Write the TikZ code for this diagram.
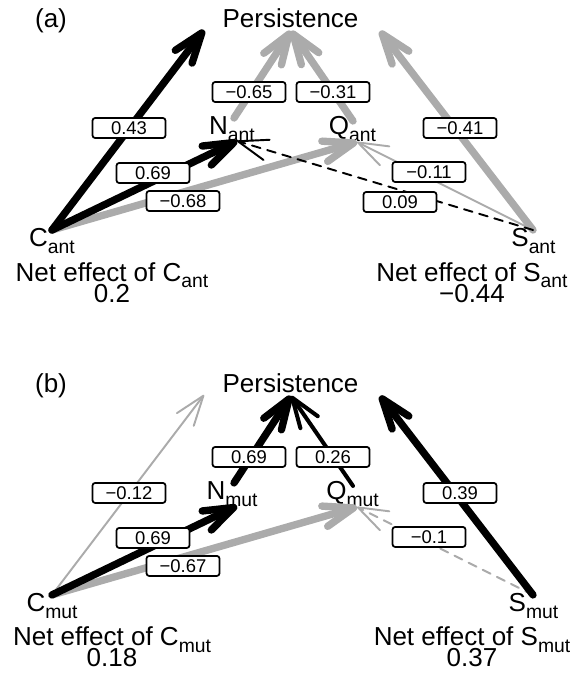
\documentclass[tikz,border=0pt]{standalone}
\usepackage{fontspec}
\setmainfont{Liberation Sans}
\usetikzlibrary{arrows.meta}

\definecolor{neggray}{gray}{0.67}
% lowered, smaller subscript text
\newcommand{\vsub}[1]{\raisebox{-3.5pt}{\fontsize{11}{11}\selectfont #1}}

\begin{document}
\begin{tikzpicture}[
    x=0.02cm, y=-0.02cm,
    var/.style={anchor=base, inner sep=0pt, font=\fontsize{14.8}{16}\selectfont},
    coef/.style={
        draw, fill=white, rounded corners=1.5pt, line width=1pt,
        minimum width=1.46cm, minimum height=0.4cm, inner sep=0pt,
        font=\fontsize{10.5}{11}\selectfont
    },
    effect/.style={line cap=round, -{Straight Barb[length=17pt, width=12pt, round]}},
    strong/.style={effect, line width=4.2pt},
    medium/.style={effect, line width=2.3pt},
    weak/.style={effect, line width=1.1pt},
    poseff/.style={draw=black},
    negeff/.style={draw=neggray},
    broken/.style={dash pattern=on 5pt off 4pt}
]
    \useasboundingbox (0,0) rectangle (572,675);

    % (a) antagonistic network
    \node[var] (tagA) at (51,28) {(a)};
    \node[var] (Pant) at (290.5,28) {Persistence};
    \node[var] (Cant) at (52,247) {C\vsub{ant}};
    \node[var] (Nant) at (232,135) {N\vsub{ant}};
    \node[var] (Qant) at (352.5,135) {Q\vsub{ant}};
    \node[var] (Sant) at (533.5,247) {S\vsub{ant}};

    \coordinate (c-ant) at (52,230);
    \coordinate (s-ant) at (533,230);
    \coordinate (n-ant-in) at (237,141);
    \coordinate (n-ant-out) at (234,118);
    \coordinate (q-ant-in) at (357,142);
    \coordinate (q-ant-out) at (353,121);
    \coordinate (p-ant) at (291,31);
    \coordinate (pc-ant) at (204,30);
    \coordinate (ps-ant) at (380,31);

    \draw[strong, negeff] (c-ant) -- (q-ant-in);
    \draw[strong, negeff] (n-ant-out) -- (p-ant);
    \draw[strong, negeff] (q-ant-out) -- (p-ant);
    \draw[strong, negeff] (s-ant) -- (ps-ant);
    \draw[weak, negeff] (s-ant) -- (q-ant-in);
    \draw[strong, poseff] (c-ant) -- (pc-ant);
    \draw[strong, poseff] (c-ant) -- (n-ant-in);
    \draw[weak, poseff, broken] (s-ant) -- (n-ant-in);

    \node[coef] (cpA) at (129,128) {0.43};
    \node[coef] (cnA) at (153,173) {0.69};
    \node[coef] (cqA) at (183,201) {−0.68};
    \node[coef] (npA) at (249,92) {−0.65};
    \node[coef] (qpA) at (333,92) {−0.31};
    \node[coef] (spA) at (460,128) {−0.41};
    \node[coef] (sqA) at (429,172) {−0.11};
    \node[coef] (snA) at (400,202) {0.09};

    \node[var] (netCant) at (112,281) {Net effect of C\vsub{ant}};
    \node[var] (valCant) at (112,302) {0.2};
    \node[var] (netSant) at (472,281) {Net effect of S\vsub{ant}};
    \node[var] (valSant) at (472,302) {−0.44};

    % (b) mutualistic network, same layout further down
    \begin{scope}[yshift=-7.3cm]
    \node[var] (tagB) at (51,28) {(b)};
    \node[var] (Pmut) at (290.5,28) {Persistence};
    \node[var] (Cmut) at (52,247) {C\vsub{mut}};
    \node[var] (Nmut) at (232,135) {N\vsub{mut}};
    \node[var] (Qmut) at (352.5,135) {Q\vsub{mut}};
    \node[var] (Smut) at (533.5,247) {S\vsub{mut}};

    \coordinate (c-mut) at (52,230);
    \coordinate (s-mut) at (533,230);
    \coordinate (n-mut-in) at (237,141);
    \coordinate (n-mut-out) at (234,118);
    \coordinate (q-mut-in) at (357,142);
    \coordinate (q-mut-out) at (353,121);
    \coordinate (p-mut) at (291,31);
    \coordinate (pc-mut) at (204,30);
    \coordinate (ps-mut) at (380,31);

    \draw[weak, negeff] (c-mut) -- (pc-mut);
    \draw[strong, negeff] (c-mut) -- (q-mut-in);
    \draw[weak, negeff, broken] (s-mut) -- (q-mut-in);
    \draw[strong, poseff] (c-mut) -- (n-mut-in);
    \draw[strong, poseff] (n-mut-out) -- (p-mut);
    \draw[medium, poseff] (q-mut-out) -- (p-mut);
    \draw[strong, poseff] (s-mut) -- (ps-mut);

    \node[coef] (cpB) at (129,128) {−0.12};
    \node[coef] (cnB) at (153,173) {0.69};
    \node[coef] (cqB) at (183,201) {−0.67};
    \node[coef] (npB) at (249,92) {0.69};
    \node[coef] (qpB) at (333,92) {0.26};
    \node[coef] (spB) at (460,128) {0.39};
    \node[coef] (sqB) at (429,172) {−0.1};

    \node[var] (netCmut) at (112,281) {Net effect of C\vsub{mut}};
    \node[var] (valCmut) at (112,302) {0.18};
    \node[var] (netSmut) at (472,281) {Net effect of S\vsub{mut}};
    \node[var] (valSmut) at (472,302) {0.37};
    \end{scope}
\end{tikzpicture}
\end{document}
